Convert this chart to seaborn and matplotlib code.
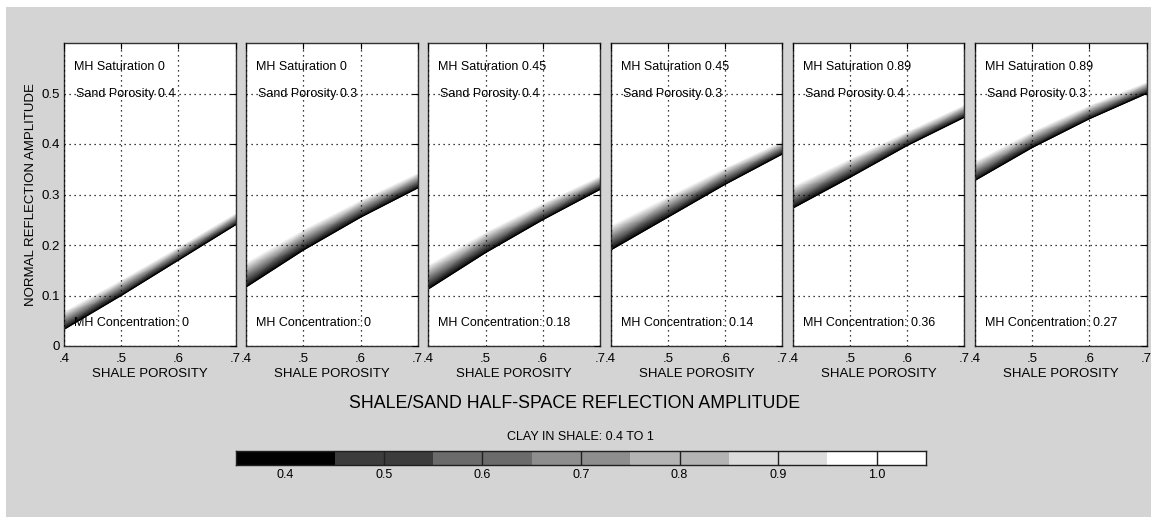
import matplotlib
matplotlib.use("Agg")
import matplotlib.pyplot as plt
import seaborn as sns
import numpy as np
import pandas as pd
from matplotlib.colors import ListedColormap, BoundaryNorm
from matplotlib.patches import Rectangle

# shale porosity grid where the band edges were read
shale_por = [0.4, 0.5, 0.6, 0.7]

# panel labels
mh_sat = ["0", "0", "0.45", "0.45", "0.89", "0.89"]
sand_por = ["0.4", "0.3", "0.4", "0.3", "0.4", "0.3"]
mh_conc = ["0", "0", "0.18", "0.14", "0.36", "0.27"]

# reflection amplitude, lowest curve (clay 0.4) and highest curve (clay 1.0)
amp_clay04 = [
    [0.033, 0.100, 0.170, 0.240],
    [0.117, 0.190, 0.255, 0.313],
    [0.113, 0.185, 0.250, 0.310],
    [0.190, 0.255, 0.320, 0.380],
    [0.273, 0.334, 0.397, 0.453],
    [0.328, 0.393, 0.450, 0.500],
]
amp_clay10 = [
    [0.068, 0.130, 0.195, 0.262],
    [0.165, 0.230, 0.288, 0.342],
    [0.160, 0.225, 0.282, 0.336],
    [0.238, 0.295, 0.352, 0.405],
    [0.316, 0.370, 0.424, 0.477],
    [0.365, 0.424, 0.476, 0.522],
]

# colorbar levels
clay_ticks = [0.4, 0.5, 0.6, 0.7, 0.8, 0.9, 1.0]
clay_bounds = [0.35, 0.45, 0.55, 0.65, 0.75, 0.85, 0.95, 1.05]
clay_colors = ["#000000", "#3c3c3c", "#6b6b6b", "#8e8e8e", "#b4b4b4", "#dcdcdc", "#ffffff"]

sns.set_style("white")
plt.rcParams["font.family"] = ["Liberation Sans", "DejaVu Sans"]
plt.rcParams["text.color"] = "black"
plt.rcParams["axes.labelcolor"] = "black"
plt.rcParams["xtick.color"] = "black"
plt.rcParams["ytick.color"] = "black"

W, H = 1151, 517
fig = plt.figure(figsize=(W / 100, H / 100), dpi=100)
fig.patch.set_facecolor("white")
fig.patches.append(Rectangle((6 / W, 0), 1 - 6 / W, 1 - 7 / H, transform=fig.transFigure,
                             facecolor="#d4d4d4", edgecolor="none", zorder=-10))

def fx(px):
    return px / W

def fy(py):
    return 1 - py / H

ax_top, ax_bot = 43, 346
for i in range(6):
    left = 64 + i * 182.2
    ax = fig.add_axes([fx(left), fy(ax_bot), 171.5 / W, (ax_bot - ax_top) / H])
    ax.set_facecolor("white")

    lo = np.array(amp_clay04[i])
    hi = np.array(amp_clay10[i])
    X = np.array([shale_por, shale_por])
    Y = np.array([lo, hi])
    C = np.array([[0.4] * len(shale_por), [1.0] * len(shale_por)])
    ax.pcolormesh(X, Y, C, cmap="gray", vmin=0.4, vmax=1.0, shading="gouraud", zorder=1)

    df = pd.DataFrame({"por": shale_por, "amp": amp_clay04[i]})
    sns.lineplot(data=df, x="por", y="amp", color="black", linewidth=0.8, ax=ax, zorder=2)

    ax.set_xlim(0.4, 0.7)
    ax.set_ylim(0, 0.6)
    ax.set_xticks(shale_por)
    ax.set_xticklabels([".4", ".5", ".6", ".7"], fontsize=9.5)
    ax.set_yticks([0, 0.1, 0.2, 0.3, 0.4, 0.5])
    if i == 0:
        ax.set_yticklabels(["0", "0.1", "0.2", "0.3", "0.4", "0.5"], fontsize=9.5)
        ax.set_ylabel("NORMAL REFLECTION AMPLITUDE", fontsize=9.5, labelpad=3)
    else:
        ax.set_yticklabels([])
        ax.set_ylabel("")
    ax.set_xlabel("SHALE POROSITY", fontsize=9.5, labelpad=2)
    ax.tick_params(direction="in", length=4, top=True, right=True, colors="black")
    ax.tick_params(axis="x", pad=5)
    ax.tick_params(axis="y", pad=3)
    ax.grid(True, color="black", linestyle=(0, (1, 3)), linewidth=0.9)
    ax.set_axisbelow(False)
    for s in ax.spines.values():
        s.set_color("#303030")
        s.set_linewidth(1.0)

    ax.text(0.4175, 0.553, "MH Saturation " + mh_sat[i], fontsize=9, va="center", ha="left", zorder=3)
    ax.text(0.421, 0.5, "Sand Porosity " + sand_por[i], fontsize=9, va="center", ha="left", zorder=3)
    ax.text(0.4175, 0.045, "MH Concentration: " + mh_conc[i], fontsize=9, va="center", ha="left", zorder=3)

fig.text(fx(575), fy(404), "SHALE/SAND HALF-SPACE REFLECTION AMPLITUDE", fontsize=12.8,
         ha="center", va="center")
fig.text(fx(580), fy(437), "CLAY IN SHALE: 0.4 TO 1", fontsize=9, ha="center", va="center")

cax = fig.add_axes([fx(236), fy(465), 690 / W, 14 / H])
cmap = ListedColormap(clay_colors)
norm = BoundaryNorm(clay_bounds, cmap.N)
cax.pcolormesh(clay_bounds, [0, 1], np.array([clay_ticks]), cmap=cmap, norm=norm)
for t in clay_ticks[1:]:
    cax.axvline(t, color="#202020", linewidth=1)
cax.set_xlim(0.35, 1.05)
cax.set_ylim(0, 1)
cax.set_yticks([])
cax.set_xticks(clay_ticks)
cax.set_xticklabels(["%.1f" % t for t in clay_ticks], fontsize=9)
cax.tick_params(axis="x", length=0, pad=3)
for s in cax.spines.values():
    s.set_color("#202020")
    s.set_linewidth(1.0)

fig.savefig("out.png", dpi=100)
